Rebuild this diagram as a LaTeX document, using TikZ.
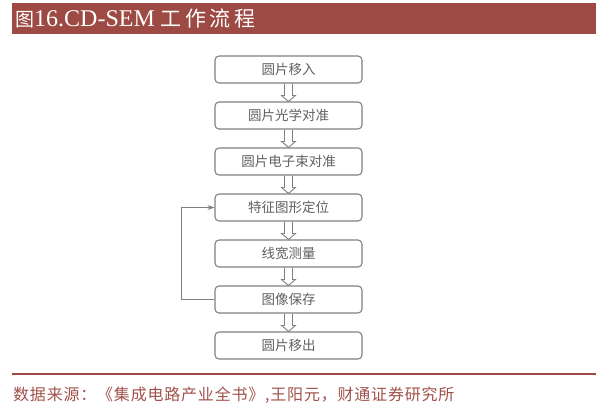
\documentclass[tikz,border=0pt]{standalone}
\usepackage{fontspec}
\setmainfont{Liberation Serif}
\newfontfamily\cjk{Noto Sans CJK SC}
\newfontfamily\cjksrc[LetterSpace=5]{Noto Sans CJK SC}
\usetikzlibrary{arrows.meta,calc}
\definecolor{barred}{HTML}{9C4A43}
\definecolor{srcred}{HTML}{A0524A}
\definecolor{boxgray}{HTML}{808080}
\definecolor{txtgray}{HTML}{606060}
\begin{document}
\begin{tikzpicture}[x=1pt,y=-1pt,
  stepbox/.style={draw=boxgray, line width=1.1pt, rounded corners=4pt,
    minimum width=147pt, minimum height=27pt, inner sep=0pt,
    font=\cjk\fontsize{13.5}{13.5}\selectfont, text=txtgray},
  hollow/.style={draw=boxgray, line width=0.9pt, line join=miter},
  back/.style={draw=boxgray, line width=0.9pt, -{Stealth[length=7pt,width=5pt]}}]
\useasboundingbox (0,0) rectangle (613,412);
\fill[barred] (12,3) rectangle (596,34);
\node[anchor=base west, text=white, inner sep=0pt] (title) at (15,27)
  {{\cjk\fontsize{19}{19}\selectfont 图}\fontsize{24}{24}\selectfont 16.CD-SEM {\cjk\fontsize{21}{21}\selectfont 工\,作\,流\,程}};
\node[stepbox] (b1) at (288.5,69.5) {圆片移入};
\node[stepbox] (b2) at (288.5,115.5) {圆片光学对准};
\node[stepbox] (b3) at (288.5,161.5) {圆片电子束对准};
\node[stepbox] (b4) at (288.5,207.5) {特征图形定位};
\node[stepbox] (b5) at (288.5,253.5) {线宽测量};
\node[stepbox] (b6) at (288.5,299.5) {图像保存};
\node[stepbox] (b7) at (288.5,345.5) {圆片移出};
\foreach \a/\b in {b1/b2,b2/b3,b3/b4,b4/b5,b5/b6,b6/b7}{
  \draw[hollow] ($(\a.south)+(-4,0)$) -- ($(\b.north)+(-4,-6)$) -- ($(\b.north)+(-7,-6)$)
    -- (\b.north) -- ($(\b.north)+(7,-6)$) -- ($(\b.north)+(4,-6)$) -- ($(\a.south)+(4,0)$);
}
\draw[back] (b6.west) -- ++(-33,0) |- (b4.west);
\draw[barred, line width=2.2pt] (12,374) -- (596,374);
\node[anchor=west, inner sep=0pt, text=srcred, font=\cjksrc\fontsize{16}{16}\selectfont] (src) at (13,395.5)
  {数据来源：《集成电路产业全书》,王阳元，财通证券研究所};
\end{tikzpicture}
\end{document}
